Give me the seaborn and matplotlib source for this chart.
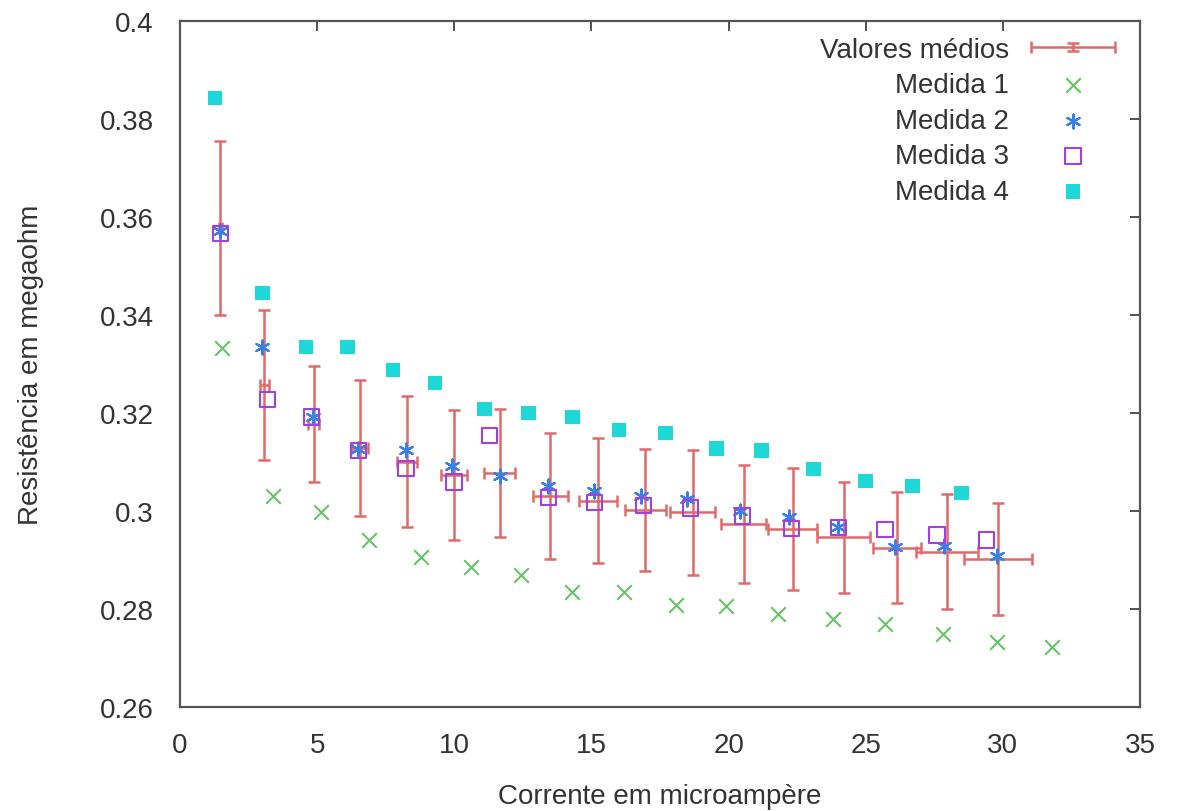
import matplotlib
matplotlib.use("Agg")
import matplotlib.pyplot as plt
import seaborn as sns
import pandas as pd
from matplotlib.ticker import FuncFormatter
from matplotlib.legend_handler import HandlerErrorbar

# ---- data ----
media_x = [1.47, 3.08, 4.88, 6.56, 8.27, 9.99, 11.66, 13.5, 15.24, 16.97, 18.7, 20.55, 22.34, 24.2, 26.15, 27.96, 29.82]
media_y = [0.3578, 0.3258, 0.3178, 0.3129, 0.3101, 0.3074, 0.3077, 0.3031, 0.3021, 0.3002, 0.2997, 0.2974, 0.2963, 0.2946, 0.2925, 0.2917, 0.2902]
media_yerr = [0.0178, 0.0153, 0.0118, 0.0139, 0.0134, 0.0133, 0.0131, 0.0129, 0.0127, 0.0125, 0.0128, 0.0120, 0.0124, 0.0114, 0.0113, 0.0117, 0.0115]
media_xerr = [0.05, 0.15, 0.2, 0.3, 0.37, 0.48, 0.56, 0.63, 0.69, 0.75, 0.82, 0.82, 0.9, 0.97, 0.88, 1.13, 1.24]

medida1_x = [1.54, 3.4, 5.13, 6.9, 8.8, 10.6, 12.45, 14.3, 16.2, 18.1, 19.9, 21.8, 23.8, 25.7, 27.8, 29.8, 31.8]
medida1_y = [0.3333, 0.3031, 0.2998, 0.2941, 0.2906, 0.2886, 0.2869, 0.2835, 0.2835, 0.2808, 0.2806, 0.2790, 0.2780, 0.2770, 0.2749, 0.2733, 0.2722]

medida2_x = [1.47, 3.0, 4.84, 6.5, 8.24, 9.9, 11.65, 13.43, 15.1, 16.8, 18.5, 20.4, 22.2, 24.0, 26.07, 27.84, 29.77]
medida2_y = [0.3571, 0.3335, 0.3192, 0.3127, 0.3125, 0.3092, 0.3071, 0.3052, 0.3041, 0.3031, 0.3024, 0.3000, 0.2988, 0.2967, 0.2926, 0.2929, 0.2908]

medida3_x = [1.47, 3.19, 4.8, 6.52, 8.24, 9.99, 11.28, 13.43, 15.1, 16.9, 18.6, 20.5, 22.3, 24.0, 25.7, 27.6, 29.4]
medida3_y = [0.3567, 0.3227, 0.3192, 0.3124, 0.3086, 0.3059, 0.3154, 0.3028, 0.3018, 0.3012, 0.3006, 0.2990, 0.2965, 0.2967, 0.2963, 0.2951, 0.2941]

medida4_x = [1.28, 3.0, 4.6, 6.1, 7.77, 9.3, 11.1, 12.7, 14.3, 16.0, 17.7, 19.56, 21.2, 23.1, 25.0, 26.7, 28.5]
medida4_y = [0.3843, 0.3445, 0.3335, 0.3335, 0.3288, 0.3261, 0.3208, 0.3200, 0.3192, 0.3165, 0.3159, 0.3127, 0.3124, 0.3086, 0.3061, 0.3051, 0.3037]

x_ticks = [0, 5, 10, 15, 20, 25, 30, 35]
y_ticks = [0.26, 0.28, 0.30, 0.32, 0.34, 0.36, 0.38, 0.40]

# ---- style ----
sns.set_theme(style="white")
plt.rcParams["font.family"] = ["Liberation Sans", "DejaVu Sans"]
plt.rcParams["axes.edgecolor"] = "#555555"
plt.rcParams["axes.linewidth"] = 1.6

fig = plt.figure(figsize=(11.78, 8.12), dpi=100)
ax = fig.add_axes([180 / 1178, 1 - 708 / 812, (1140 - 180) / 1178, (708 - 22) / 812])

red = "#e06a6a"
eb = ax.errorbar(media_x, media_y, xerr=media_xerr, yerr=media_yerr, fmt="none",
                 ecolor=red, elinewidth=1.8, capsize=4, capthick=1.8,
                 label="Valores médios", zorder=2)

df1 = pd.DataFrame({"x": medida1_x, "y": medida1_y})
df2 = pd.DataFrame({"x": medida2_x, "y": medida2_y})
df3 = pd.DataFrame({"x": medida3_x, "y": medida3_y})
df4 = pd.DataFrame({"x": medida4_x, "y": medida4_y})

sns.scatterplot(data=df1, x="x", y="y", ax=ax, marker="x", s=110, color="#66c466",
                linewidth=1.5, label="Medida 1", zorder=3)
sns.scatterplot(data=df2, x="x", y="y", ax=ax, marker=(6, 2, 0), s=100, color="#3a7fe8",
                linewidth=1.6, label="Medida 2", zorder=4)
sns.scatterplot(data=df3, x="x", y="y", ax=ax, marker="s", s=120, facecolor="none",
                edgecolor="#a040dd", linewidth=1.5, label="Medida 3", zorder=5)
sns.scatterplot(data=df4, x="x", y="y", ax=ax, marker="s", s=110, color="#1ed8d8",
                edgecolor="none", label="Medida 4", zorder=3)

ax.set_xlim(0, 35)
ax.set_ylim(0.26, 0.40)
ax.set_xticks(x_ticks)
ax.set_yticks(y_ticks)
ax.xaxis.set_major_formatter(FuncFormatter(lambda v, p: "%g" % round(v, 4)))
ax.yaxis.set_major_formatter(FuncFormatter(lambda v, p: "%g" % round(v, 4)))
ax.tick_params(direction="in", length=7, width=1.2, color="#333333",
               top=True, right=True, labelsize=20, labelcolor="#333333")
ax.tick_params(axis="y", pad=19)
ax.tick_params(axis="x", pad=18)
for s in ax.spines.values():
    s.set_visible(True)

ax.set_xlabel("Corrente em microampère", fontsize=20, color="#333333", labelpad=18)
ax.set_ylabel("Resistência em megaohm", fontsize=20, color="#333333", labelpad=40)

handles, labels = ax.get_legend_handles_labels()
order = [labels.index("Valores médios")] + [i for i, l in enumerate(labels) if l != "Valores médios"]
handles = [handles[i] for i in order]
labels = [labels[i] for i in order]

leg = ax.legend(handles, labels, loc="upper right", markerfirst=False, frameon=False,
                fontsize=20, handlelength=3.0, handletextpad=0.8, labelspacing=0.34,
                borderaxespad=0.1, bbox_to_anchor=(0.988, 0.997),
                handler_map={type(eb): HandlerErrorbar(xerr_size=1.5, yerr_size=0.15)})
for t in leg.get_texts():
    t.set_color("#333333")
try:
    vp = leg._legend_box._children[-1]._children[0]
    vp.align = "right"
except Exception:
    pass

fig.savefig("out.png", dpi=100, facecolor="white")
